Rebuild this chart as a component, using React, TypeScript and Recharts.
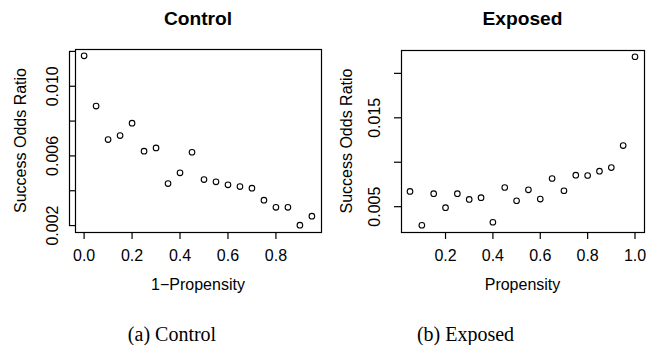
import { ScatterChart, Scatter, XAxis, YAxis } from "recharts";

// Control panel: 1-Propensity vs success odds ratio
const controlProp = [0, 0.05, 0.1, 0.15, 0.2, 0.25, 0.3, 0.35, 0.4, 0.45, 0.5, 0.55, 0.6, 0.65, 0.7, 0.75, 0.8, 0.85, 0.9, 0.95];
const controlOdds = [
  0.01175, 0.00886, 0.00694, 0.00717, 0.00788, 0.00627, 0.00646, 0.00441, 0.00503, 0.00621,
  0.00464, 0.00451, 0.00434, 0.00424, 0.00415, 0.00346, 0.00305, 0.00305, 0.00202, 0.00254,
];
const controlXTicks = [0, 0.2, 0.4, 0.6, 0.8];
const controlYTicks = [0.002, 0.004, 0.006, 0.008, 0.01, 0.012];
const controlYLabels = [0.002, 0.006, 0.01];

// Exposed panel: Propensity vs success odds ratio
const exposedProp = [0.05, 0.1, 0.15, 0.2, 0.25, 0.3, 0.35, 0.4, 0.45, 0.5, 0.55, 0.6, 0.65, 0.7, 0.75, 0.8, 0.85, 0.9, 0.95, 1.0];
const exposedOdds = [
  0.00672, 0.00291, 0.00646, 0.00489, 0.00646, 0.00582, 0.00601, 0.00325, 0.00716, 0.00567,
  0.0069, 0.00586, 0.00817, 0.00679, 0.00854, 0.00851, 0.00899, 0.0094, 0.01187, 0.02187,
];
const exposedXTicks = [0.2, 0.4, 0.6, 0.8, 1.0];
const exposedYTicks = [0.005, 0.01, 0.015, 0.02];
const exposedYLabels = [0.005, 0.015];

const SANS = "'Liberation Sans', Arial, Helvetica, sans-serif";
const SERIF = "'Liberation Serif', 'Times New Roman', serif";
const H = 300;
const LW = 1.2;

// R style 4% padding around the data range
const pad = (v: number[]): [number, number] => {
  const lo = Math.min(...v);
  const hi = Math.max(...v);
  const d = (hi - lo) * 0.04;
  return [lo - d, hi + d];
};

type Box = { l: number; r: number; t: number; b: number };

const controlBox: Box = { l: 75, r: 321, t: 49, b: 232 };
const exposedBox: Box = { l: 71, r: 314, t: 50, b: 232 };

const OpenCircle = (p: any) => (
  <circle cx={p.cx} cy={p.cy} r={2.8} fill="none" stroke="#000" strokeWidth={1.1} />
);

// x tick: mark hanging from the box + label
const makeXTick = (box: Box) => (p: any) => (
  <g>
    <line x1={p.x} x2={p.x} y1={box.b} y2={box.b + 7} stroke="#000" strokeWidth={LW} />
    <text
      x={p.x}
      y={box.b + 18}
      dy="0.71em"
      textAnchor="middle"
      fontSize={16}
      fontFamily={SANS}
      fill="#000"
    >
      {p.payload.value.toFixed(1)}
    </text>
  </g>
);

// y tick: mark to the left of the box + rotated label (R las=0)
const makeYTick = (box: Box, len: number, labelX: number, shown: number[]) => (p: any) => {
  const v = p.payload.value;
  const labelled = shown.some((s) => Math.abs(s - v) < 1e-9);
  return (
    <g>
      <line x1={box.l - len} x2={box.l} y1={p.y} y2={p.y} stroke="#000" strokeWidth={LW} />
      {labelled && (
        <text
          x={labelX}
          y={p.y}
          dy="0.36em"
          transform={`rotate(-90 ${labelX} ${p.y})`}
          textAnchor="middle"
          fontSize={16}
          fontFamily={SANS}
          fill="#000"
        >
          {v.toFixed(3)}
        </text>
      )}
    </g>
  );
};

type PanelProps = {
  left: number;
  width: number;
  box: Box;
  xs: number[];
  ys: number[];
  xTicks: number[];
  yTicks: number[];
  yLabels: number[];
  labelX: number;
  tickLen: number;
};

const Panel = ({ left, width, box, xs, ys, xTicks, yTicks, yLabels, labelX, tickLen }: PanelProps) => {
  const data = xs.map((x, i) => ({ x, y: ys[i] }));
  return (
    <div style={{ position: "absolute", left, top: 0 }}>
      <ScatterChart
        width={width}
        height={H}
        margin={{ top: box.t, right: width - box.r, bottom: 0, left: 0 }}
      >
        <XAxis
          type="number"
          dataKey="x"
          domain={pad(xs)}
          ticks={xTicks}
          allowDataOverflow
          height={H - box.b}
          axisLine={false}
          tickLine={false}
          interval={0}
          tick={makeXTick(box)}
        />
        <YAxis
          type="number"
          dataKey="y"
          domain={pad(ys)}
          ticks={yTicks}
          allowDataOverflow
          width={box.l}
          axisLine={false}
          tickLine={false}
          interval={0}
          tick={makeYTick(box, tickLen, labelX, yLabels)}
        />
        <Scatter data={data} shape={OpenCircle} isAnimationActive={false} />
      </ScatterChart>
    </div>
  );
};

const App = () => {
  // control y axis line sits a few px left of the box, spanning first..last tick
  const cDom = pad(controlOdds);
  const cPix = (v: number) =>
    controlBox.t + ((cDom[1] - v) / (cDom[1] - cDom[0])) * (controlBox.b - controlBox.t);
  const eL = 330;
  return (
    <div style={{ position: "absolute", left: 0, top: 0, width: 658, height: 345, background: "#fff" }}>
      <Panel
        left={0}
        width={330}
        box={controlBox}
        xs={controlProp}
        ys={controlOdds}
        xTicks={controlXTicks}
        yTicks={controlYTicks}
        yLabels={controlYLabels}
        labelX={52.5}
        tickLen={6}
      />
      <Panel
        left={eL}
        width={328}
        box={exposedBox}
        xs={exposedProp}
        ys={exposedOdds}
        xTicks={exposedXTicks}
        yTicks={exposedYTicks}
        yLabels={exposedYLabels}
        labelX={44}
        tickLen={7}
      />
      <svg
        width={658}
        height={345}
        style={{ position: "absolute", left: 0, top: 0, pointerEvents: "none" }}
      >
        <g fill="none" stroke="#000" strokeWidth={LW}>
          <rect
            x={controlBox.l + 0.5}
            y={controlBox.t + 0.5}
            width={controlBox.r - controlBox.l}
            height={controlBox.b - controlBox.t}
          />
          <rect
            x={eL + exposedBox.l + 0.5}
            y={exposedBox.t + 0.5}
            width={exposedBox.r - exposedBox.l}
            height={exposedBox.b - exposedBox.t}
          />
          <line
            x1={controlBox.l - 6 + 0.5}
            x2={controlBox.l - 6 + 0.5}
            y1={cPix(controlYTicks[controlYTicks.length - 1])}
            y2={cPix(controlYTicks[0])}
          />
        </g>
        <g fontFamily={SANS} fill="#000">
          <text x={198} y={25} textAnchor="middle" fontSize={19.2} fontWeight="bold">Control</text>
          <text x={522.5} y={25} textAnchor="middle" fontSize={19.2} fontWeight="bold">Exposed</text>
          <text x={198} y={290} textAnchor="middle" fontSize={16}>1−Propensity</text>
          <text x={522.5} y={290} textAnchor="middle" fontSize={16}>Propensity</text>
          <text x={20} y={140.5} dy="0.36em" textAnchor="middle" fontSize={16} transform="rotate(-90 20 140.5)">
            Success Odds Ratio
          </text>
          <text x={346} y={141} dy="0.36em" textAnchor="middle" fontSize={16} transform="rotate(-90 346 141)">
            Success Odds Ratio
          </text>
        </g>
        <g fontFamily={SERIF} fill="#000" fontSize={20}>
          <text x={172} y={341} textAnchor="middle">(a) Control</text>
          <text x={465.5} y={341} textAnchor="middle">(b) Exposed</text>
        </g>
      </svg>
    </div>
  );
};

export default App;
